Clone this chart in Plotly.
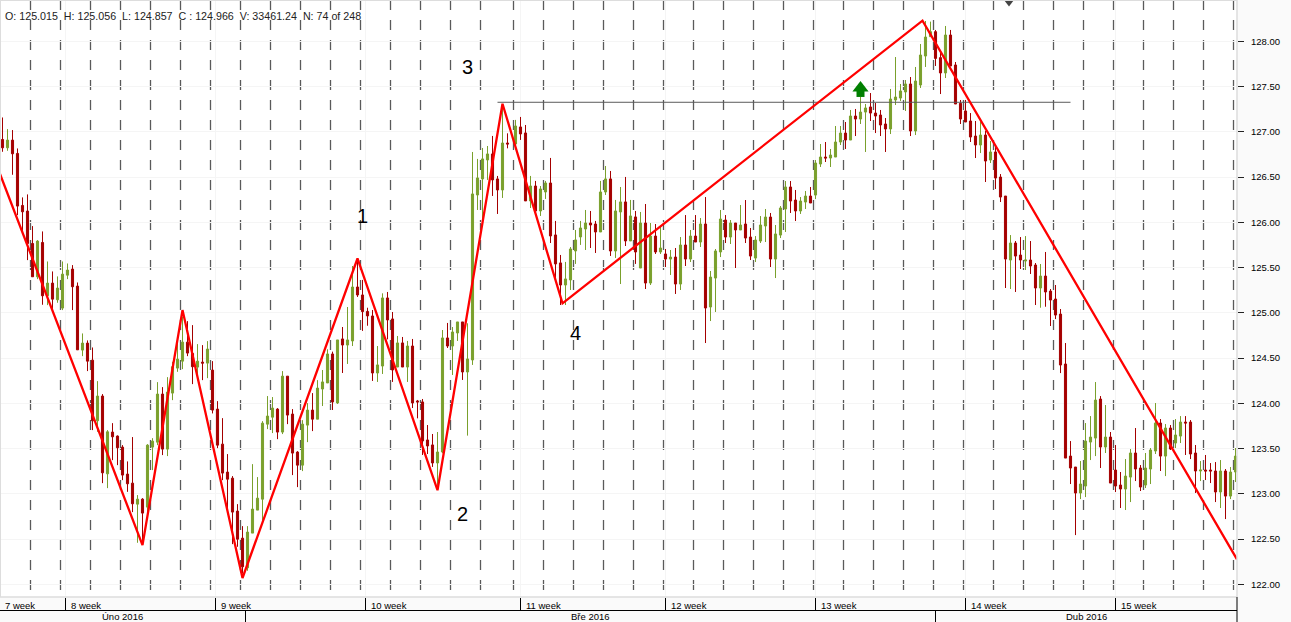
import numpy as np
import plotly.graph_objects as go

highs = [127.158,127.03,127.019,126.816,126.275,126.308,125.958,125.803,125.899,125.567,
125.457,125.402,125.567,125.545,125.527,125.335,124.772,124.695,124.617,124.245,
124.102,123.704,123.781,123.645,123.538,123.358,123.627,122.986,122.952,123.549,
123.615,124.234,124.179,124.289,124.459,124.698,124.956,124.908,124.864,124.654,
124.643,124.687,124.466,124.024,123.836,123.439,123.196,122.886,122.643,122.643,
123.328,123.185,123.803,124.08,124.069,123.947,124.356,124.3,123.936,123.472,
123.814,124.002,124.113,124.256,124.368,124.597,124.571,124.7,124.843,125.064,
125.517,125.584,125.363,125.056,125.031,124.633,125.215,125.23,125.009,124.744,
124.733,124.689,124.711,124.037,124.048,123.76,123.661,123.683,124.81,124.888,
124.843,124.899,124.899,124.884,126.777,126.7,126.821,126.843,126.954,126.512,
127.278,126.983,127.131,127.164,127.075,126.512,126.457,126.401,126.457,126.711,
126.015,125.639,125.562,125.727,125.915,126.015,126.136,126.125,126.015,126.457,
126.622,126.567,126.247,126.39,126.501,126.247,126.125,126.114,126.202,125.992,
125.981,125.948,125.705,125.694,125.716,125.837,126.08,125.915,126.08,126.047,
126.279,125.462,125.705,126.136,126.08,126.025,125.992,126.191,126.246,125.937,
125.848,126.069,126.147,126.103,125.97,126.18,126.456,126.456,126.357,126.279,
126.346,126.39,126.688,126.865,126.887,126.81,127.064,127.064,127.108,127.241,
127.252,127.388,127.307,127.428,127.318,127.241,127.152,127.473,127.826,127.528,
127.572,127.605,127.716,127.97,128.224,128.217,128.125,127.904,128.169,128.125,
127.771,127.351,127.351,127.207,127.119,127.112,127.009,126.898,126.843,126.533,
126.29,125.859,125.793,125.837,125.848,125.793,125.55,125.539,125.672,125.263,
125.307,125.042,124.666,123.583,123.296,123.362,123.782,123.859,124.235,124.08,
123.981,123.683,123.539,123.241,123.384,123.495,123.727,123.318,123.451,123.506,
124.003,123.826,123.771,123.76,123.826,123.859,123.859,123.815,123.539,123.362,
123.429,123.34,123.351,123.373,123.274,123.296,123.506]

lows = [126.779,126.79,126.525,126.079,125.877,125.582,125.398,125.372,125.089,125.085,
125.03,125.111,125.03,125.372,125.03,124.591,124.521,124.356,123.704,123.685,
123.118,123.063,123.372,123.317,123.151,123.022,122.798,122.459,122.452,122.783,
123.262,123.538,123.428,123.417,124.035,124.348,124.378,124.521,124.212,124.256,
124.256,124.278,123.888,123.505,123.151,122.82,122.444,122.415,122.12,122.15,
122.566,122.82,122.71,123.715,123.671,123.604,123.66,123.77,123.207,123.074,
123.251,123.571,123.693,123.825,123.97,124.225,123.926,123.993,124.335,124.435,
124.633,125.175,124.8,124.857,124.247,124.236,124.324,124.707,124.236,124.401,
124.401,124.236,123.948,123.834,123.429,123.44,123.297,123.098,123.448,124.611,
124.313,124.689,124.258,123.643,124.424,126.136,126.026,126.468,126.291,126.092,
126.269,126.817,126.854,126.91,126.236,126.158,126.07,126.07,126.258,125.771,
125.363,125.086,125.086,125.252,125.54,125.75,125.694,125.716,125.661,125.893,
126.302,125.628,125.606,125.318,125.738,125.794,125.54,125.495,125.263,125.307,
125.65,125.65,125.506,125.418,125.208,125.252,125.517,125.561,125.782,125.727,
124.666,124.909,125.009,125.616,125.771,125.76,125.495,125.915,125.771,125.583,
125.561,125.771,125.782,125.506,125.384,125.826,125.893,126.103,126.014,126.092,
126.147,126.213,126.257,126.611,126.666,126.611,126.721,126.854,126.81,126.909,
126.953,127.086,126.777,127.119,126.986,126.953,126.777,126.975,127.296,127.34,
127.23,126.953,126.964,127.484,127.716,128.051,127.727,127.417,127.594,127.727,
127.307,127.086,127.108,126.887,126.71,126.765,126.445,126.655,126.368,126.224,
125.274,125.263,125.23,125.484,125.473,125.429,125.086,125.056,125.067,124.854,
124.931,124.334,123.395,123.108,122.544,122.942,122.964,123.373,123.417,123.285,
123.451,123.119,123.02,122.843,122.821,122.909,123.141,123.031,123.064,123.108,
123.44,123.252,123.196,123.484,123.506,123.561,123.429,123.384,123.009,123.141,
123.152,123.119,122.909,122.843,122.721,122.942,123.13]

opens = [126.915,126.823,126.908,126.761,126.186,126.124,125.766,125.398,125.777,125.188,
125.328,125.144,125.052,125.416,125.483,125.295,124.588,124.665,124.477,123.807,
124.08,123.221,123.682,123.638,123.516,123.218,123.118,122.886,122.941,122.853,
123.516,123.571,124.102,123.494,124.113,124.389,124.466,124.676,124.551,124.4,
124.455,124.444,124.367,123.936,123.549,123.24,123.173,122.809,122.51,122.183,
122.566,122.82,122.941,123.77,123.847,123.936,123.682,124.3,123.881,123.461,
123.317,123.759,123.925,123.825,124.158,124.225,124.545,124.004,124.711,124.644,
124.689,125.285,125.197,125.015,124.965,124.335,124.412,125.164,124.932,124.401,
124.667,124.401,124.633,124.026,124.015,123.595,123.54,123.341,123.462,124.722,
124.633,124.777,124.899,124.346,124.479,126.302,126.479,126.689,126.755,126.479,
126.357,126.876,126.865,127.053,126.987,126.236,126.401,126.125,126.335,126.434,
125.86,125.551,125.307,125.363,125.683,125.838,125.926,125.992,125.981,125.893,
126.335,126.479,125.683,126.114,126.225,125.794,126.059,125.495,125.992,125.329,
125.848,125.672,125.65,125.594,125.616,125.318,125.749,125.594,125.848,125.782,
125.981,125.064,125.384,125.672,126.025,125.837,125.992,125.915,125.981,125.837,
125.605,125.793,125.959,126.058,125.594,125.859,126.147,126.39,126.246,126.125,
126.224,126.29,126.301,126.644,126.721,126.71,126.721,126.887,126.986,126.909,
127.174,127.141,127.218,127.274,127.207,127.185,127.086,127.031,127.351,127.373,
127.44,127.528,127.009,127.517,127.837,128.051,128.106,127.819,127.65,128.069,
127.738,127.314,127.23,127.119,126.953,126.854,126.964,126.688,126.777,126.5,
126.29,125.583,125.771,125.638,125.572,125.583,125.528,125.274,125.406,125.24,
125.152,124.986,124.434,123.417,123.296,123.009,123.086,123.572,123.616,124.047,
123.517,123.627,123.263,123.097,123.053,123.185,123.451,123.285,123.097,123.274,
123.473,123.782,123.417,123.727,123.561,123.638,123.793,123.793,123.451,123.252,
123.263,123.263,123.252,123.02,123.252,122.975,123.241]

closes = [126.823,126.908,126.757,126.179,126.116,125.766,125.398,125.792,125.188,125.328,
125.151,125.273,125.427,125.472,125.288,124.591,124.665,124.466,123.807,124.08,
123.232,123.685,123.63,123.509,123.207,123.111,122.89,122.941,122.787,123.538,
123.582,124.102,123.494,124.124,124.404,124.488,124.676,124.555,124.404,124.466,
124.444,124.599,123.925,123.538,123.229,123.162,122.798,122.499,122.194,122.577,
122.831,122.952,123.781,123.859,123.947,123.682,124.3,123.87,123.45,123.317,
123.77,123.925,123.825,124.168,124.236,124.545,124.015,124.7,124.644,124.7,
125.285,125.197,125.013,124.966,124.335,124.424,125.164,124.921,124.368,124.667,
124.401,124.633,124.004,124.015,123.584,123.529,123.341,123.462,124.722,124.633,
124.788,124.899,124.346,124.49,126.313,126.49,126.7,126.755,126.468,126.357,
126.876,126.865,127.064,126.976,126.236,126.401,126.125,126.368,126.434,125.849,
125.54,125.307,125.374,125.705,125.805,125.937,125.992,125.97,125.893,126.335,
126.479,125.683,126.125,126.225,125.794,126.07,125.672,125.992,125.329,125.848,
125.672,125.716,125.594,125.616,125.318,125.749,125.594,125.848,125.782,125.981,
125.053,125.395,125.683,126.036,125.837,125.992,125.915,125.97,125.826,125.627,
125.804,125.97,126.058,125.594,125.871,126.158,126.39,126.235,126.125,126.235,
126.29,126.213,126.655,126.721,126.71,126.743,126.887,126.986,126.909,127.174,
127.141,127.218,127.263,127.207,127.174,127.075,127.031,127.362,127.384,127.451,
127.528,127.009,127.561,127.848,128.047,128.106,127.811,127.65,128.069,127.727,
127.307,127.141,127.108,126.942,126.854,126.964,126.677,126.777,126.489,126.279,
125.594,125.771,125.627,125.583,125.583,125.517,125.274,125.406,125.23,125.141,
124.975,124.423,123.395,123.285,123.009,123.108,123.583,123.627,124.036,123.517,
123.627,123.119,123.086,123.053,123.196,123.451,123.274,123.075,123.285,123.484,
123.782,123.417,123.727,123.495,123.65,123.793,123.782,123.44,123.252,123.263,
123.252,123.252,123.02,123.252,122.975,123.241,123.417]

# session gap after bar 101 on the time scale
GAP_AFTER = 101
GAP_SLOTS = 0.6
bar_slots = [i + (GAP_SLOTS if i > GAP_AFTER else 0) for i in range(len(opens))]

day_first_bars = list(range(6, len(opens), 6))
week_starts = [12.6, 42.6, 72.6, 103.6, 132.6, 162.6, 192.6, 222.6]
week_names = ["7 week", "8 week", "9 week", "10 week", "11 week", "12 week", "13 week", "14 week", "15 week"]
month_seps = [48.6, 186.6]
month_names = ["Úno 2016", "Bře 2016", "Dub 2016"]
month_centers = [24, 117.5, 216.7]

zigzag_x = [-0.5, 28, 36, 48, 71, 87, 100, 112, 184, 246.9]
zigzag_y = [126.534, 122.434, 125.03, 122.07, 125.60, 123.04, 127.31, 125.105, 128.228, 122.276]
level_x = [99, 213.6]
level_y = [127.326, 127.326]
wave_labels = ["1", "2", "3", "4"]
wave_x = [71.9, 91.9, 92.9, 114.5]
wave_y = [126.07, 122.78, 127.716, 124.78]
buy_x = [171.6]
buy_head = [127.485]
buy_stem = [127.429]
sell_x = [201.3]
sell_y = [128.434]
y_ticks = [122 + 0.5 * i for i in range(13)]

RED = "#a50000"
GREEN = "#7aa02c"
FONT = "Liberation Sans"
W, H = 1291, 622
PLOT_W, PLOT_H = 1237, 597
XR = [-0.5, 246.9]
YR = [121.86, 128.456]

fig = go.Figure()
fig.add_trace(go.Candlestick(
    x=bar_slots, open=opens, high=highs, low=lows, close=closes,
    increasing=dict(line=dict(color=GREEN, width=1), fillcolor=GREEN),
    decreasing=dict(line=dict(color=RED, width=1), fillcolor=RED),
    whiskerwidth=0, showlegend=False))
fig.add_trace(go.Scatter(x=level_x, y=level_y, mode="lines",
    line=dict(color="#5a5a5a", width=1), showlegend=False))
fig.add_trace(go.Scatter(x=zigzag_x, y=zigzag_y, mode="lines",
    line=dict(color="#ff0000", width=2.3), showlegend=False))
fig.add_trace(go.Scatter(x=buy_x, y=buy_head, mode="markers",
    marker=dict(symbol="triangle-up", size=14, color="#008000", line=dict(width=0)), showlegend=False))
fig.add_trace(go.Scatter(x=buy_x, y=buy_stem, mode="markers",
    marker=dict(symbol="square", size=8, color="#008000", line=dict(width=0)), showlegend=False))
fig.add_trace(go.Scatter(x=sell_x, y=sell_y, mode="markers", cliponaxis=False,
    marker=dict(symbol="triangle-down", size=9, color="#444444", line=dict(width=0)), showlegend=False))

shapes = []
for b in day_first_bars:
    sx = bar_slots[b] - 0.4
    shapes.append(dict(type="line", xref="x", yref="paper", x0=sx, x1=sx, y0=1, y1=0, layer="below",
                       line=dict(color="#5a5a5a", width=1.3, dash="10px,10px")))
for sx in week_starts:
    shapes.append(dict(type="line", xref="x", yref="paper", x0=sx, x1=sx, y0=0, y1=1, layer="below",
                       line=dict(color="#f5f5f5", width=1)))
    shapes.append(dict(type="line", xref="x", yref="paper", x0=sx, x1=sx, y0=-1/PLOT_H, y1=-13/PLOT_H,
                       line=dict(color="#000000", width=1)))
for sx in month_seps:
    shapes.append(dict(type="line", xref="x", yref="paper", x0=sx, x1=sx, y0=-13.5/PLOT_H, y1=-25/PLOT_H,
                       line=dict(color="#000000", width=1)))
# panel borders
shapes.append(dict(type="line", xref="paper", yref="paper", x0=0, x1=1, y0=1, y1=1, layer="above",
                   line=dict(color="#dddddd", width=2)))
shapes.append(dict(type="line", xref="paper", yref="paper", x0=0, x1=0, y0=0, y1=1, layer="above",
                   line=dict(color="#dddddd", width=2)))
shapes.append(dict(type="line", xref="paper", yref="paper", x0=0, x1=1, y0=0, y1=0, layer="above",
                   line=dict(color="#dddddd", width=1.5)))
shapes.append(dict(type="line", xref="paper", yref="paper", x0=1, x1=1, y0=0, y1=1, layer="above",
                   line=dict(color="#dddddd", width=1.5)))
shapes.append(dict(type="line", xref="paper", yref="paper", x0=0, x1=1, y0=-13.5/PLOT_H, y1=-13.5/PLOT_H,
                   line=dict(color="#000000", width=1)))
shapes.append(dict(type="line", xref="paper", yref="paper", x0=1, x1=1, y0=0, y1=-25/PLOT_H,
                   line=dict(color="#000000", width=1)))

ann = []
for t, x, y in zip(wave_labels, wave_x, wave_y):
    ann.append(dict(text=t, x=x, y=y, xref="x", yref="y", showarrow=False,
                    font=dict(family=FONT, size=20, color="#000000")))
for t, x in zip(week_names, [-0.5] + week_starts):
    ann.append(dict(text=t, x=x, xref="x", y=-8/PLOT_H, yref="paper", xanchor="left", yanchor="middle",
                    xshift=3, showarrow=False, font=dict(family=FONT, size=9.5, color="#000000")))
for t, x in zip(month_names, month_centers):
    ann.append(dict(text=t, x=x, xref="x", y=-19.5/PLOT_H, yref="paper", xanchor="center", yanchor="middle",
                    showarrow=False, font=dict(family=FONT, size=9.5, color="#000000")))
ann.append(dict(text="O: 125.015\u00a0\u00a0H: 125.056\u00a0\u00a0L: 124.857\u00a0\u00a0C : 124.966\u00a0\u00a0V: 33461.24\u00a0\u00a0N: 74 of 248",
                x=3/PLOT_W, y=1-15.6/PLOT_H, xref="paper", yref="paper", xanchor="left", yanchor="middle",
                showarrow=False, font=dict(family=FONT, size=10.7, color="#222222")))

fig.update_layout(
    width=W, height=H, autosize=False,
    margin=dict(l=0, r=W - PLOT_W, t=0, b=H - PLOT_H, pad=0),
    paper_bgcolor="#fafafa", plot_bgcolor="#ffffff",
    boxgap=0.4, shapes=shapes, annotations=ann, showlegend=False,
    xaxis=dict(range=XR, rangeslider=dict(visible=False), showgrid=False, showticklabels=False,
               ticks="", zeroline=False, showline=False),
    yaxis=dict(range=YR, side="right", tickvals=y_ticks, tickformat=".2f", showgrid=True,
               gridcolor="#f5f5f5", gridwidth=1, zeroline=False, showline=False, ticks="outside",
               ticklen=6, tickcolor="#222222", tickwidth=1, ticklabelstandoff=5,
               tickfont=dict(family=FONT, size=9.5, color="#000000")),
)
fig.write_html("out.html", config=dict(displayModeBar=False),
               post_script="document.body.style.margin='0';document.body.style.overflow='hidden';")
